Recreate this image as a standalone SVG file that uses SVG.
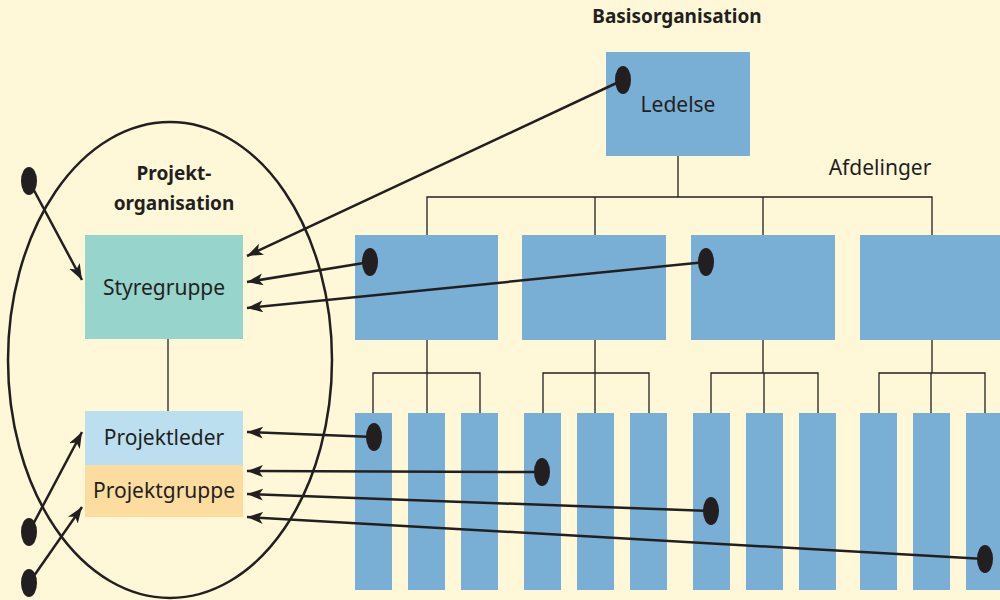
<svg xmlns="http://www.w3.org/2000/svg" width="1000" height="600" viewBox="0 0 1000 600">
<defs>
<marker id="ah" markerUnits="userSpaceOnUse" markerWidth="18" markerHeight="14" refX="16" refY="6" orient="auto">
<path d="M0,0 L16,6 L0,12 L4,6 z" fill="#231f20"/>
</marker>
</defs>
<style>
.bl{fill:#79afd4}
.t{font-family:"Noto Sans","Liberation Sans",Arial,sans-serif;font-size:21px;fill:#231f20;text-anchor:middle}
.b{font-family:"Noto Sans","Liberation Sans",Arial,sans-serif;font-size:19px;font-weight:bold;fill:#231f20;text-anchor:middle}
.tree{stroke:#231f20;stroke-width:1.3;fill:none}
.arr{stroke:#231f20;stroke-width:2.5;fill:none;marker-end:url(#ah)}
.dot{fill:#231f20}
</style>
<rect width="1000" height="600" fill="#fef8d8"/>
<text class="b" x="677" y="23">Basisorganisation</text>
<text class="t" x="880" y="175">Afdelinger</text>
<g id="tree" class="tree">
<path d="M678,156 V197 M427,235 V197 H932 V235 M595,197 V235 M763,197 V235"/>
<path d="M427,340 V373 M373,413 V373 H480 V413 M427,373 V413"/>
<path d="M595,340 V373 M543,413 V373 H649 V413 M595,373 V413"/>
<path d="M763,340 V373 M711,413 V373 H818 V413 M764,373 V413"/>
<path d="M932,340 V373 M879,413 V373 H985 V413 M931,373 V413"/>
<path d="M168,339 V411"/>
</g>
<g id="ledelse"><rect class="bl" x="606" y="52" width="144" height="104"/><text class="t" x="678" y="112">Ledelse</text></g>
<g id="afd1"><rect class="bl" x="355" y="235" width="143" height="105"/></g>
<g id="afd2"><rect class="bl" x="522" y="235" width="144" height="105"/></g>
<g id="afd3"><rect class="bl" x="691" y="235" width="144" height="105"/></g>
<g id="afd4"><rect class="bl" x="860" y="235" width="144" height="105"/></g>
<g id="bars">
<rect class="bl" x="355" y="413" width="37" height="177"/>
<rect class="bl" x="408" y="413" width="37" height="177"/>
<rect class="bl" x="461" y="413" width="37" height="177"/>
<rect class="bl" x="524" y="413" width="37" height="177"/>
<rect class="bl" x="577" y="413" width="37" height="177"/>
<rect class="bl" x="630" y="413" width="37" height="177"/>
<rect class="bl" x="693" y="413" width="37" height="177"/>
<rect class="bl" x="746" y="413" width="37" height="177"/>
<rect class="bl" x="799" y="413" width="37" height="177"/>
<rect class="bl" x="860" y="413" width="37" height="177"/>
<rect class="bl" x="913" y="413" width="37" height="177"/>
<rect class="bl" x="966" y="413" width="37" height="177"/>
</g>
<g id="projektorganisation">
<ellipse cx="170" cy="360" rx="162" ry="238" fill="none" stroke="#231f20" stroke-width="2.5"/>
<text class="b" x="174" y="180">Projekt-</text>
<text class="b" x="174" y="210">organisation</text>
</g>
<g id="styregruppe"><rect x="85" y="235" width="158" height="104" fill="#97d4cc"/><text class="t" x="164" y="295">Styregruppe</text></g>
<g id="projektleder"><rect x="85" y="411" width="158" height="54" fill="#bcdff0"/><text class="t" x="164" y="445">Projektleder</text></g>
<g id="projektgruppe"><rect x="85" y="465" width="158" height="52" fill="#fddd9f"/><text class="t" x="164" y="498">Projektgruppe</text></g>
<g id="connectors">
<path class="arr" d="M29,181 L82,280"/>
<path class="arr" d="M29,532 L82,432"/>
<path class="arr" d="M29,583 L82,507"/>
<path class="arr" d="M623,80 L247,256"/>
<path class="arr" d="M370,262 L247,282"/>
<path class="arr" d="M706,262 L247,308"/>
<path class="arr" d="M374,437 L247,432"/>
<path class="arr" d="M542,472 L247,471"/>
<path class="arr" d="M711,511 L247,494"/>
<path class="arr" d="M985,559 L247,517"/>
<ellipse class="dot" cx="29" cy="181" rx="8" ry="14"/>
<ellipse class="dot" cx="29" cy="532" rx="8" ry="14"/>
<ellipse class="dot" cx="29" cy="583" rx="8" ry="14"/>
<ellipse class="dot" cx="623" cy="80" rx="8" ry="14"/>
<ellipse class="dot" cx="370" cy="262" rx="8" ry="14"/>
<ellipse class="dot" cx="706" cy="262" rx="8" ry="14"/>
<ellipse class="dot" cx="374" cy="437" rx="8" ry="14"/>
<ellipse class="dot" cx="542" cy="472" rx="8" ry="14"/>
<ellipse class="dot" cx="711" cy="511" rx="8" ry="14"/>
<ellipse class="dot" cx="985" cy="559" rx="8" ry="14"/>
</g>
</svg>
